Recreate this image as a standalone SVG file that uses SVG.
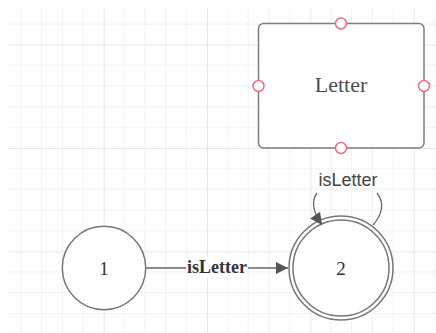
<svg xmlns="http://www.w3.org/2000/svg" width="436" height="333" viewBox="0 0 436 333">
  <defs>
    <!-- background grid: minor lines every 20.67px, major every 5 cells -->
    <pattern id="grid" patternUnits="userSpaceOnUse" x="0.33" y="44.67" width="103.33" height="103.33">
      <path d="M20.67 0V103.33M41.33 0V103.33M62 0V103.33M82.67 0V103.33M0 20.67H103.33M0 41.33H103.33M0 62H103.33M0 82.67H103.33" stroke="#f1f1f1" stroke-width="1" fill="none"/>
      <path d="M0.5 0V103.33M0 0.5H103.33" stroke="#e7e7e7" stroke-width="1" fill="none"/>
    </pattern>
    <marker id="arrow" viewBox="0 0 10 10" refX="10" refY="5" markerWidth="15" markerHeight="12" markerUnits="userSpaceOnUse" orient="auto">
      <path d="M0 0L10 5L0 10Z" fill="#555"/>
    </marker>
    <style>
      .state { fill: #fff; stroke: #777; stroke-width: 1.5; }
      .num { font-family: "Liberation Serif", serif; font-size: 19px; fill: #333; text-anchor: middle; }
      .port { fill: #fff; stroke: #e8717f; stroke-width: 1.5; }
      .edge { fill: none; stroke: #666; stroke-width: 1.3; }
    </style>
  </defs>

  <rect x="0" y="0" width="436" height="333" fill="#fff"/>
  <rect x="7" y="7" width="429" height="326" fill="url(#grid)"/>

  <g id="letter">
    <rect x="258.5" y="23.5" width="165.5" height="124.5" rx="5" fill="#fff" stroke="#7a7d82" stroke-width="1.5"/>
    <text x="341" y="92" font-family="Liberation Serif, serif" font-size="22" fill="#4b4f57" text-anchor="middle">Letter</text>
    <circle class="port" cx="341" cy="23.5" r="5.5"/>
    <circle class="port" cx="258.5" cy="86" r="5.5"/>
    <circle class="port" cx="424" cy="86" r="5.5"/>
    <circle class="port" cx="341" cy="148" r="5.5"/>
  </g>

  <g id="state-1">
    <circle class="state" cx="104" cy="268" r="41.7"/>
    <text class="num" x="104" y="274.5">1</text>
  </g>

  <g id="state-2">
    <circle class="state" cx="341" cy="268" r="52"/>
    <circle class="state" cx="341" cy="268" r="48"/>
    <text class="num" x="341" y="274.5">2</text>
  </g>

  <g id="connectors">
    <path class="edge" d="M146 268H288" marker-end="url(#arrow)"/>
    <rect x="186" y="257" width="62" height="20" fill="#fff"/>
    <text x="217" y="273" font-family="Liberation Serif, serif" font-size="18" font-weight="bold" fill="#333" text-anchor="middle">isLetter</text>

    <path class="edge" d="M317 193C311 201 313 212 322 225" marker-end="url(#arrow)"/>
    <path class="edge" d="M377 193C385 203 382 215 373 225"/>
    <text x="348" y="186" font-family="Liberation Sans, sans-serif" font-size="18" fill="#444" text-anchor="middle">isLetter</text>
  </g>
</svg>
